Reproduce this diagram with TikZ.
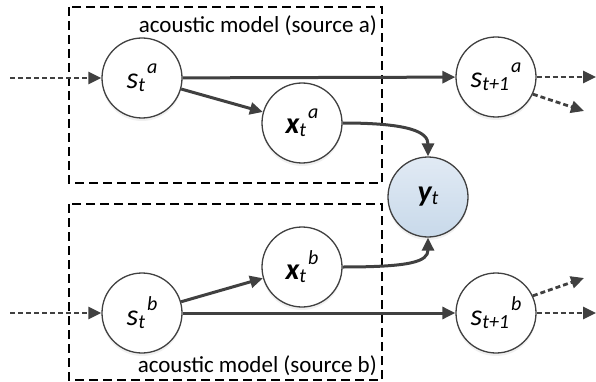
\documentclass[tikz,border=0pt]{standalone}
\usepackage{fontspec}
\setmainfont{Carlito}
\usetikzlibrary{arrows.meta}
\usetikzlibrary{shadows}
\definecolor{linegray}{HTML}{404040}
\definecolor{obstop}{HTML}{E1EAF4}
\definecolor{obsbottom}{HTML}{C8D9EA}
\newcommand{\smallidx}{\fontsize{20}{20}\selectfont}
\newcommand{\stvar}[3]{#1\raisebox{-3pt}{\smallidx #2}\kern2pt\raisebox{15pt}{\smallidx #3}}
\tikzset{
    statenode/.style = {circle, draw=linegray, line width=1.3pt, fill=white, minimum size=80pt, inner sep=0pt,
        font=\fontsize{30}{30}\selectfont\itshape,
        drop shadow={shadow xshift=0pt, shadow yshift=-3pt, opacity=0.12}},
    obsnode/.style = {statenode, top color=obstop, bottom color=obsbottom},
    modelbox/.style = {draw=black, dash pattern=on 9pt off 5pt, line width=1.3pt},
    boxlabel/.style = {font=\fontsize{23}{23}\selectfont, anchor=east, inner sep=0pt},
    flow/.style = {->, draw=linegray, line width=3pt},
    future/.style = {->, draw=linegray, line width=2.8pt, dash pattern=on 5pt off 3pt}
}

\begin{document}
\begin{tikzpicture}
    [x=1pt, y=-1pt, >={Triangle[length=13pt, width=12pt]}]

    \useasboundingbox (0,0) rectangle (596,382);

    % model boxes
    \draw[modelbox] (69,7) rectangle (382,183);
    \draw[modelbox] (69,204) rectangle (382,380);
    \node[boxlabel] (laba) at (377,26) {acoustic model (source a)};
    \node[boxlabel] (labb) at (377,366) {acoustic model (source b)};

    % states and features
    \node[statenode] (sa) at (142,78) {\stvar{s}{t}{a}};
    \node[statenode] (xa) at (302,123) {\stvar{{\bfseries x}}{t}{a}};
    \node[statenode] (sna) at (496,77) {\stvar{s}{t+1}{a}};
    \node[obsnode] (y) at (428,197) {{\bfseries y}\raisebox{-3pt}{\smallidx t}};
    \node[statenode] (xb) at (302,267) {\stvar{{\bfseries x}}{t}{b}};
    \node[statenode] (sb) at (142,313) {\stvar{s}{t}{b}};
    \node[statenode] (snb) at (496,313) {\stvar{s}{t+1}{b}};

    \coordinate (ina) at (10,78);
    \coordinate (inb) at (10,313);
    \coordinate (outa) at (596,77);
    \coordinate (outb) at (596,313);
    \coordinate (outa2) at (584,111);
    \coordinate (outb2) at (584,278);

    % edges
    \draw[future] (ina) -- (sa);
    \draw[future] (inb) -- (sb);
    \draw[flow] (sa) -- (sna);
    \draw[flow] (sb) -- (snb);
    \draw[flow] (sa) -- (xa);
    \draw[flow] (sb) -- (xb);
    \draw[flow] (xa.east) .. controls +(68,0) and +(0,-24) .. (y.north);
    \draw[flow] (xb.east) .. controls +(68,0) and +(0,24) .. (y.south);
    \draw[future] (sna) -- (outa);
    \draw[future] (snb) -- (outb);
    \draw[future] (sna.-25) -- (outa2);
    \draw[future] (snb.25) -- (outb2);
\end{tikzpicture}
\end{document}
